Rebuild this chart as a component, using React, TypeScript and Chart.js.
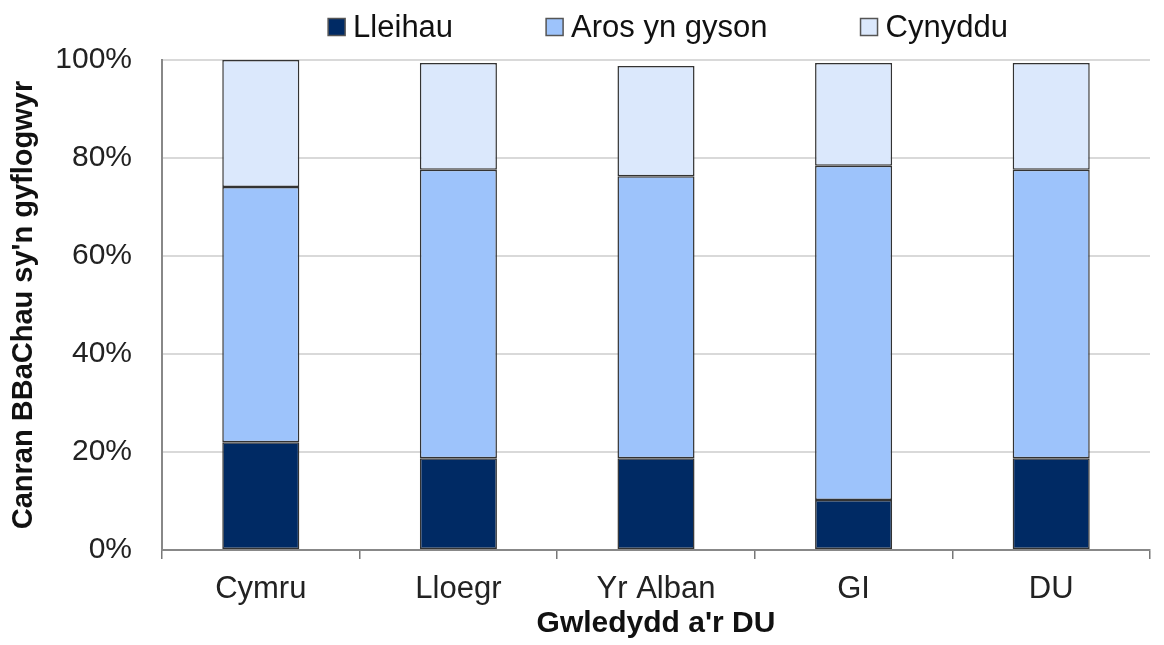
import React, { useEffect, useRef } from "react";
import { Chart, registerables } from "chart.js";

Chart.register(...registerables);

const categories = ["Cymru", "Lloegr", "Yr Alban", "GI", "DU"];
const seriesNames = ["Lleihau", "Aros yn gyson", "Cynyddu"];
const lleihau = [22.0, 18.7, 18.7, 10.2, 18.7];
const arosYnGyson = [52.1, 58.9, 57.6, 68.2, 58.9];
const cynyddu = [25.9, 21.8, 22.5, 21.0, 21.8];
const yTicks = [0, 20, 40, 60, 80, 100];
const colors = ["#002a64", "#9dc3fb", "#dbe8fc"];
const FONT = "'Liberation Sans', Arial, sans-serif";

const legendPlugin = {
  id: "topLegend",
  afterDraw(chart: any) {
    const ctx = chart.ctx;
    const datasets = chart.data.datasets;
    ctx.save();
    ctx.font = `31px ${FONT}`;
    const box = 17;
    const gapText = 8;
    const gapItem = 93;
    const widths = datasets.map((d: any) => box + gapText + ctx.measureText(d.label).width);
    const total = widths.reduce((a: number, b: number) => a + b, 0) + gapItem * (widths.length - 1);
    const center = 668;
    let x = center - total / 2;
    const cy = 27;
    datasets.forEach((d: any, i: number) => {
      ctx.fillStyle = d.backgroundColor;
      ctx.fillRect(x, cy - box / 2, box, box);
      ctx.strokeStyle = "#555";
      ctx.lineWidth = 1.5;
      ctx.strokeRect(x, cy - box / 2, box, box);
      ctx.fillStyle = "#111";
      ctx.textBaseline = "middle";
      ctx.textAlign = "left";
      ctx.fillText(d.label, x + box + gapText, cy + 1);
      x += widths[i] + gapItem;
    });
    ctx.restore();
  },
};

export default function App() {
  const ref = useRef<HTMLCanvasElement>(null);
  useEffect(() => {
    document.body.style.margin = "0";
    const values = [lleihau, arosYnGyson, cynyddu];
    const chart = new Chart(ref.current as HTMLCanvasElement, {
      type: "bar",
      data: {
        labels: categories,
        datasets: seriesNames.map((name, i) => ({
          label: name,
          data: values[i],
          backgroundColor: colors[i],
          borderColor: "#333333",
          borderWidth: 1.5,
          borderSkipped: false,
          categoryPercentage: 1,
          barPercentage: 0.39,
        })),
      },
      options: {
        responsive: false,
        animation: false,
        layout: { padding: { top: 60, right: 14, bottom: 0, left: 0 } },
        plugins: {
          legend: { display: false },
          tooltip: { enabled: false },
        },
        scales: {
          x: {
            stacked: true,
            afterFit: (s: any) => {
              s.height = 95;
            },
            grid: {
              display: true,
              drawOnChartArea: false,
              offset: true,
              tickLength: 9,
              color: "#777",
              lineWidth: 1.5,
            },
            border: { display: true, color: "#888", width: 2 },
            ticks: {
              color: "#222",
              font: { family: FONT, size: 31 },
              padding: 12,
              maxRotation: 0,
            },
            title: {
              display: true,
              text: "Gwledydd a'r DU",
              color: "#111",
              font: { family: FONT, size: 30, weight: "bold" },
              padding: { top: 0, bottom: 3 },
            },
          },
          y: {
            stacked: true,
            min: 0,
            max: 100,
            afterFit: (s: any) => {
              s.width = 162;
            },
            afterBuildTicks: (s: any) => {
              s.ticks = yTicks.map((v) => ({ value: v }));
            },
            grid: {
              color: "#d9d9d9",
              lineWidth: 2,
              drawTicks: false,
            },
            border: { display: true, color: "#888", width: 2 },
            ticks: {
              color: "#222",
              font: { family: FONT, size: 30 },
              padding: 30,
              callback: (v: any) => `${v}%`,
            },
            title: {
              display: true,
              text: "Canran BBaChau sy'n gyflogwyr",
              color: "#111",
              font: { family: FONT, size: 29, weight: "bold" },
              padding: { top: 7, bottom: 0 },
            },
          },
        },
      } as any,
      plugins: [legendPlugin],
    });
    return () => chart.destroy();
  }, []);
  return (
    <canvas
      ref={ref}
      width={1164}
      height={645}
      style={{ display: "block", width: 1164, height: 645 }}
    />
  );
}
